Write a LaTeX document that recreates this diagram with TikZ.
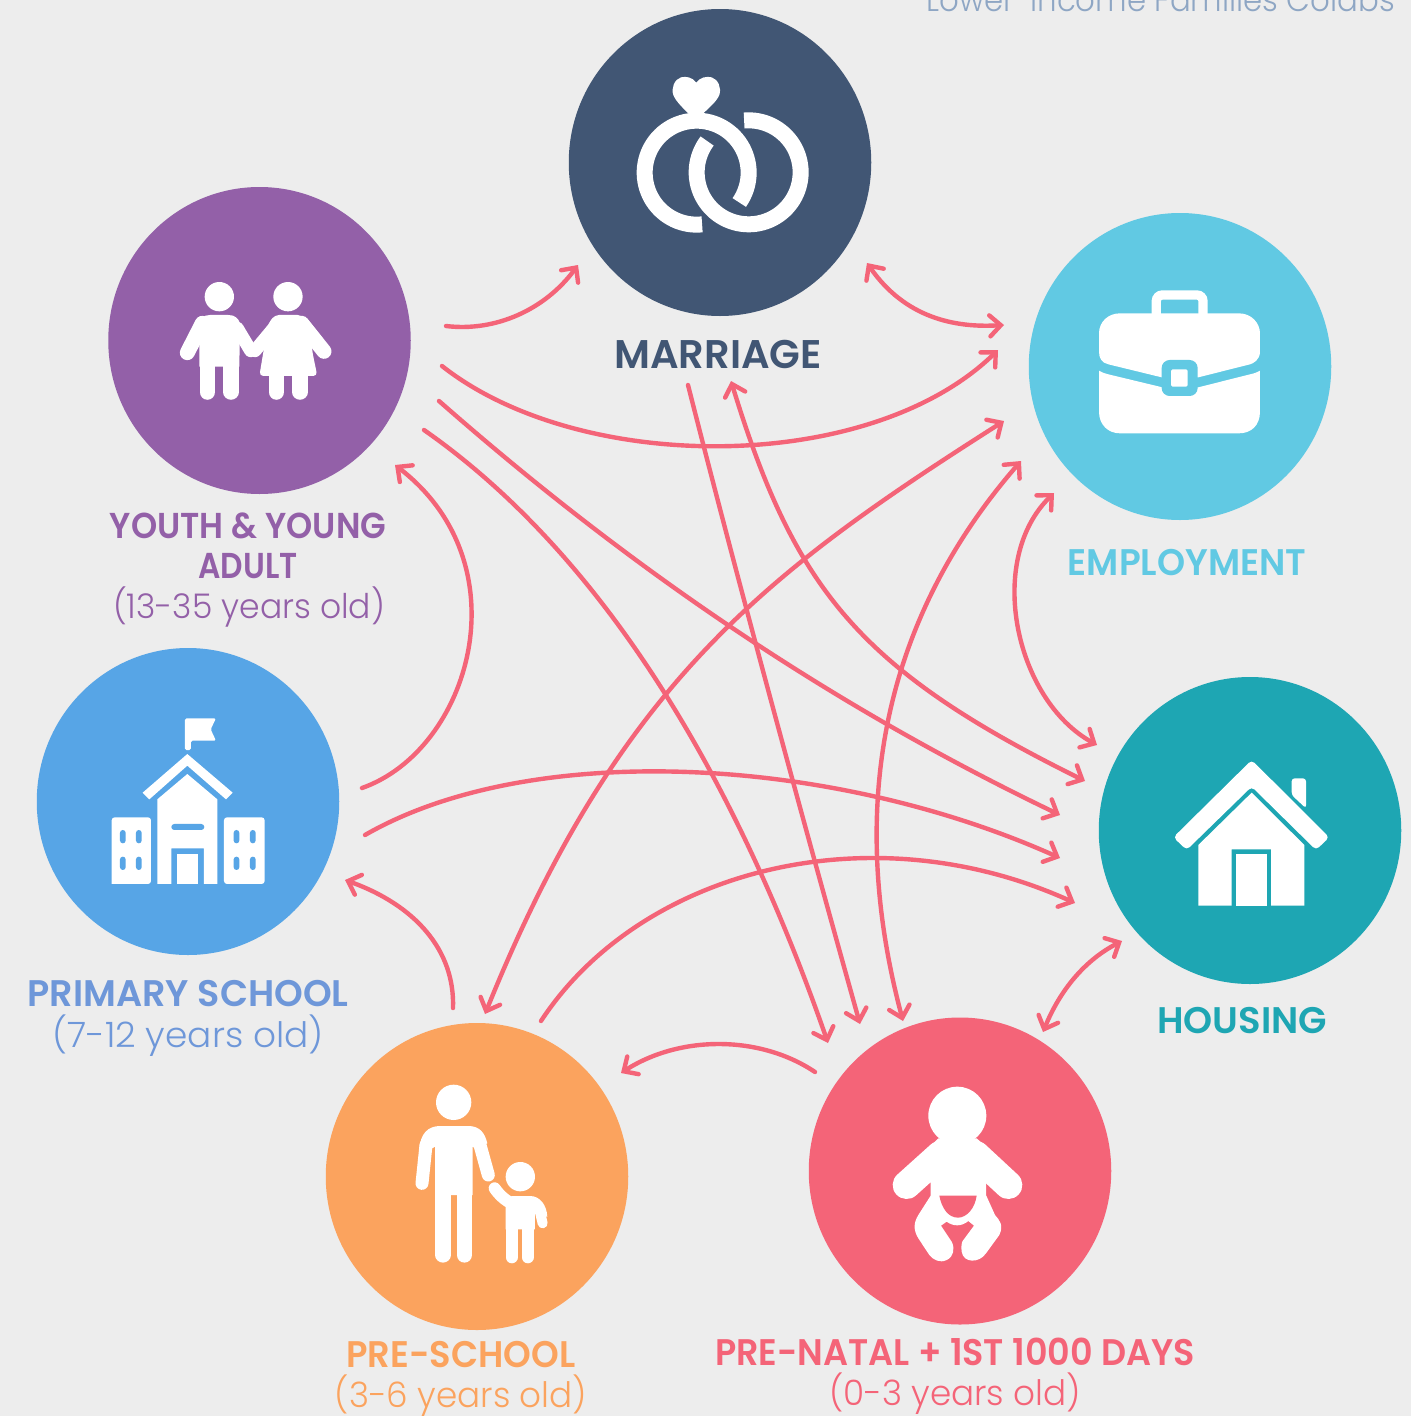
\documentclass[tikz,border=0pt]{standalone}
\usepackage{fontspec}
\usepackage{graphicx}
\setmainfont{Poppins Light}[BoldFont={Poppins SemiBold}]
\usetikzlibrary{arrows.meta,shapes.geometric}
\definecolor{bgc}{HTML}{EDEDED}
\definecolor{cmar}{HTML}{415674}
\definecolor{cemp}{HTML}{61C9E3}
\definecolor{chou}{HTML}{1EA6B3}
\definecolor{cnat}{HTML}{F46478}
\definecolor{cpre}{HTML}{FBA35E}
\definecolor{cpri}{HTML}{57A5E6}
\definecolor{cyou}{HTML}{9360A8}
\definecolor{tpri}{HTML}{6E97D9}
\definecolor{ttop}{HTML}{8EA6C4}
\newcommand{\hs}[2]{\scalebox{#1}[1]{#2}}
\newcommand{\fz}[1]{\fontsize{#1}{#1}\selectfont}
\tikzset{
  disc/.style={ellipse,inner sep=0pt,minimum width=302.5pt,minimum height=307pt,draw=none},
  lab/.style={anchor=base,inner sep=0pt,font=\fz{37}\bfseries,text=#1},
  sub/.style={anchor=base,inner sep=0pt,font=\fz{35},text=#1},
  >={Straight Barb[line cap=round,line join=miter,length=11pt,width=21pt,line width=4.4pt]},
  link/.style={draw=cnat,line width=4.4pt,line cap=round,->},
  linkb/.style={draw=cnat,line width=4.4pt,line cap=round,<->},
  zoomed/.style={x=0.3333pt,y=-0.3333pt},
  limb/.style={draw=white,line cap=round,line width=#1}
}
\begin{document}
\begin{tikzpicture}[x=1pt,y=-1pt]
\useasboundingbox (0,0) rectangle (1411,1416);
\fill[bgc] (0,0) rectangle (1411,1416);
% discs
\node[disc,fill=cmar] (marriage) at (720,162.5) {};
\node[disc,fill=cemp] (employment) at (1180,366.5) {};
\node[disc,fill=chou] (housing) at (1250,830.5) {};
\node[disc,fill=cnat] (natal) at (960,1171) {};
\node[disc,fill=cpre] (preschool) at (477,1176.5) {};
\node[disc,fill=cpri] (primary) at (188,801.5) {};
\node[disc,fill=cyou] (youth) at (259.5,340.5) {};
% texts
\node[sub=ttop,anchor=base east,font=\fz{33}] (toptext) at (1395,11) {\hs{0.934}{Lower-Income Families Colabs}};
\node[lab=cmar,font=\fz{40}\bfseries] (lmar) at (718,368) {MARRIAGE};
\node[lab=cyou,font=\fz{36}\bfseries] (lyou1) at (248,538) {\hs{0.926}{YOUTH \& YOUNG}};
\node[lab=cyou,font=\fz{36}\bfseries] (lyou2) at (248,578) {\hs{0.87}{ADULT}};
\node[sub=cyou,font=\fz{34}] (lyou3) at (249,618) {\hs{0.97}{(13-35 years old)}};
\node[lab=cemp] (lemp) at (1187,575) {\hs{0.967}{EMPLOYMENT}};
\node[lab=tpri] (lpri1) at (188,1006) {\hs{0.988}{PRIMARY SCHOOL}};
\node[sub=tpri] (lpri2) at (188,1047) {\hs{1.025}{(7-12 years old)}};
\node[lab=chou] (lhou) at (1242,1033) {HOUSING};
\node[lab=cpre] (lpre1) at (461,1367) {\hs{0.954}{PRE-SCHOOL}};
\node[sub=cpre] (lpre2) at (461,1407) {\hs{0.977}{(3-6 years old)}};
\node[lab=cnat] (lnat1) at (955,1365) {\hs{0.945}{PRE-NATAL + 1ST 1000 DAYS}};
\node[sub=cnat] (lnat2) at (955,1405) {\hs{0.977}{(0-3 years old)}};
% connector ends
\coordinate (a1) at (446,326); \coordinate (b1) at (578,265);
\coordinate (a2) at (867,263); \coordinate (b2) at (1004,325);
\coordinate (a3) at (442,366); \coordinate (b3) at (998,350);
\coordinate (a4) at (439,401); \coordinate (b4) at (1060,815);
\coordinate (a5) at (731,381); \coordinate (b5) at (1085,781);
\coordinate (a6) at (424,430); \coordinate (b6) at (828,1043);
\coordinate (a7) at (688,385); \coordinate (b7) at (860,1024);
\coordinate (a8) at (1004,421); \coordinate (b8) at (485,1014);
\coordinate (a9) at (1021,461); \coordinate (b9) at (903,1021);
\coordinate (a10) at (1054,493); \coordinate (b10) at (1097,745);
\coordinate (a11) at (1122,941); \coordinate (b11) at (1043,1032);
\coordinate (a12) at (815,1072); \coordinate (b12) at (621,1073);
\coordinate (a13) at (453,1008); \coordinate (b13) at (345,880);
\coordinate (a14) at (362,788); \coordinate (b14) at (395,465);
\coordinate (a15) at (365,835); \coordinate (b15) at (1060,858);
\coordinate (a16) at (541,1021); \coordinate (b16) at (1075,903);
% connectors
\draw[link] (a1) .. controls (495,332) and (545,310) .. (b1);
\draw[linkb] (a2) .. controls (905,318) and (955,328) .. (b2);
\draw[link] (a3) .. controls (580,475) and (870,475) .. (b3);
\draw[link] (a4) .. controls (620,560) and (820,700) .. (b4);
\draw[linkb] (a5) .. controls (795,590) and (860,670) .. (b5);
\draw[link] (a6) .. controls (610,560) and (740,790) .. (b6);
\draw[link] (a7) .. controls (735,570) and (800,810) .. (b7);
\draw[linkb] (a8) .. controls (770,570) and (620,680) .. (b8);
\draw[linkb] (a9) .. controls (878,625) and (848,815) .. (b9);
\draw[linkb] (a10) .. controls (985,560) and (1015,700) .. (b10);
\draw[linkb] (a11) .. controls (1085,960) and (1060,990) .. (b11);
\draw[link] (a12) .. controls (760,1035) and (680,1035) .. (b12);
\draw[link] (a13) .. controls (455,950) and (415,905) .. (b13);
\draw[link] (a14) .. controls (470,750) and (525,565) .. (b14);
\draw[link] (a15) .. controls (530,740) and (830,755) .. (b15);
\draw[link] (a16) .. controls (640,870) and (870,810) .. (b16);
% rings
\begin{scope}[shift={(610,60)},zoomed]
\draw[white,line width=16pt] plot[domain=84:395,samples=80] ({260+156*cos(\x)},{338+156*sin(\x)});
\draw[white,line width=16pt] plot[domain=265:577,samples=80] ({416+156*cos(\x)},{337+156*sin(\x)});
\fill[white] (259,68) .. controls (270,52) and (290,48) .. (305,52) .. controls (325,58) and (335,85) .. (328,105) .. controls (320,125) and (295,145) .. (280,160) -- (235,160) .. controls (220,145) and (198,125) .. (190,105) .. controls (183,85) and (193,58) .. (213,52) .. controls (228,48) and (248,52) .. (259,68) -- cycle;
\end{scope}
% children
\begin{scope}[shift={(160,260)},zoomed]
\fill[white] (178,110) circle[radius=44];
\fill[white] (384,110) circle[radius=44];
\draw[limb=15pt] (127,190) -- (82,278);
\draw[limb=15.6pt] (142,396) -- (142,310);
\draw[limb=15.6pt] (213,396) -- (213,310);
\fill[white] (118,320) -- (118,200) .. controls (118,175) and (130,165) .. (150,165) -- (205,165) .. controls (225,165) and (235,175) .. (240,190) -- (238,320) -- cycle;
\draw[limb=13pt] (232,205) -- (272,272);
\draw[limb=13pt] (345,200) -- (285,272);
\draw[limb=15pt] (425,190) -- (492,274);
\fill[white,rounded corners=4pt] (345,165) -- (425,165) -- (448,200) -- (458,280) -- (472,348) -- (298,348) -- (312,265) -- (325,190) -- cycle;
\draw[limb=15.6pt] (349,396) -- (349,340);
\draw[limb=15.6pt] (420,396) -- (420,340);
\end{scope}
% school
\begin{scope}[shift={(90,700)},zoomed]
\fill[white,rounded corners=1.5pt] (285,150) -- (285,55) -- (378,55) -- (362,88) -- (378,122) -- (303,122) -- (303,150) -- cycle;
\fill[white] (158,278) -- (292,162) -- (428,278) -- (408,298) -- (292,197) -- (178,298) -- cycle;
\fill[white] (202,298) -- (292,222) -- (382,298) -- (382,552) -- (342,552) -- (342,445) -- (244,445) -- (244,552) -- (202,552) -- cycle;
\fill[white] (262,462) rectangle (325,552);
\fill[cpri,rounded corners=3pt] (244,372) rectangle (343,390);
\fill[white,rounded corners=3pt] (65,552) -- (65,352) -- (183,352) -- (183,552) [sharp corners] -- cycle;
\fill[white,rounded corners=3pt] (402,552) -- (402,352) -- (524,352) -- (524,552) -- cycle;
\foreach \wx in {90,138,431,480} \foreach \wy in {390,470}
  \fill[cpri,rounded corners=2.8pt] (\wx,\wy) rectangle ++(17,40);
\end{scope}
% adult and child
\begin{scope}[shift={(400,1070)},zoomed]
\fill[white] (161,97) circle[radius=53];
\fill[white] (361,320) circle[radius=44];
\draw[limb=13pt] (78,225) -- (66,340);
\draw[limb=13pt] (240,225) -- (265,315);
\fill[white] (58,240) .. controls (60,190) and (85,168) .. (120,168) -- (205,168) .. controls (240,168) and (255,190) .. (262,220) -- (225,235) -- (218,230) -- (218,375) -- (105,375) -- (105,230) -- (97,235) -- cycle;
\draw[limb=15.3pt] (129,555) -- (129,370);
\draw[limb=15.3pt] (193,555) -- (193,370);
\draw[limb=12pt] (284,355) .. controls (298,375) and (310,385) .. (325,395);
\draw[limb=10pt] (416,410) -- (428,460);
\fill[white] (317,400) -- (335,378) -- (390,378) .. controls (420,378) and (440,405) .. (442,440) -- (412,440) -- (405,420) -- (405,478) -- (317,478) -- cycle;
\draw[limb=12pt] (335,562) -- (335,470);
\draw[limb=12pt] (383,562) -- (383,470);
\end{scope}
% baby
\begin{scope}[shift={(880,1075)},zoomed]
\fill[white] (232,122) circle[radius=87];
\draw[limb=28pt] (180,240) -- (80,330);
\draw[limb=28pt] (288,240) -- (385,330);
\fill[white] (150,215) -- (175,190) -- (290,190) -- (318,215) -- (318,360) -- (345,420) .. controls (358,435) and (372,450) .. (358,480) -- (318,535) .. controls (298,565) and (250,565) .. (245,530) .. controls (243,515) and (245,502) .. (248,498) -- (282,452) -- (265,438) .. controls (245,455) and (220,455) .. (200,440) -- (183,452) -- (215,500) .. controls (225,520) and (222,545) .. (200,555) .. controls (180,565) and (160,555) .. (148,540) -- (115,490) .. controls (100,465) and (100,445) .. (115,420) -- (152,362) -- cycle;
\fill[cnat] (178,362) -- (290,362) .. controls (285,400) and (260,428) .. (234,428) .. controls (205,428) and (185,400) .. (178,362) -- cycle;
\end{scope}
% house
\begin{scope}[shift={(1160,750)},zoomed]
\fill[white,rounded corners=3pt] (395,135) -- (395,85) -- (438,85) -- (438,175) -- cycle;
\fill[white,rounded corners=4pt] (275,30) -- (508,262) -- (468,300) -- (275,110) -- (80,300) -- (40,262) -- cycle;
\fill[white] (115,285) -- (275,128) -- (433,285) -- (433,467) -- (333,467) -- (333,298) -- (215,298) -- (215,467) -- (115,467) -- cycle;
\fill[white] (228,312) rectangle (320,467);
\end{scope}
% briefcase
\begin{scope}[shift={(1085,280)},zoomed]
\draw[white,line width=9.3pt,rounded corners=6pt] (214,105) -- (214,45) -- (354,45) -- (354,105);
\fill[white] (105,100) -- (462,100) .. controls (500,100) and (525,130) .. (525,160) -- (525,215) .. controls (525,240) and (505,250) .. (495,253) -- (340,292) -- (230,292) -- (70,253) .. controls (50,248) and (42,235) .. (42,215) -- (42,160) .. controls (42,125) and (70,100) .. (105,100) -- cycle;
\fill[white] (42,272) .. controls (50,278) and (60,280) .. (70,283) -- (232,322) -- (340,322) -- (495,283) .. controls (510,280) and (520,275) .. (525,272) -- (525,395) .. controls (525,435) and (500,460) .. (462,460) -- (105,460) .. controls (70,460) and (42,435) .. (42,395) -- cycle;
\fill[cemp,rounded corners=8pt] (230,240) rectangle (338,348);
\fill[white,rounded corners=1.5pt] (258,268) rectangle (308,320);
\end{scope}
\end{tikzpicture}
\end{document}
